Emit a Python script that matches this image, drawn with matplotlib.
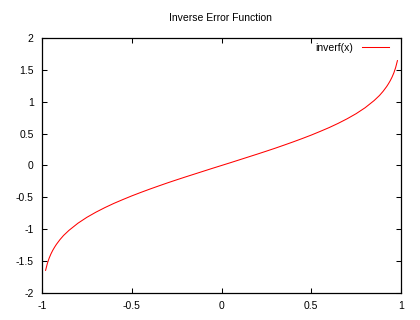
import matplotlib
matplotlib.use("Agg")
import matplotlib.pyplot as plt

# values
x = [-0.98, -0.97, -0.96, -0.95, -0.94, -0.93, -0.92, -0.90, -0.88, -0.85,
     -0.80, -0.75, -0.70, -0.65, -0.60, -0.55, -0.50, -0.45, -0.40, -0.35,
     -0.30, -0.25, -0.20, -0.15, -0.10, -0.05, 0.00,
     0.05, 0.10, 0.15, 0.20, 0.25, 0.30, 0.35, 0.40, 0.45, 0.50,
     0.55, 0.60, 0.65, 0.70, 0.75, 0.80, 0.85, 0.88, 0.90, 0.92,
     0.93, 0.94, 0.95, 0.96, 0.97, 0.98]
y = [-1.645, -1.535, -1.452, -1.386, -1.330, -1.282, -1.238, -1.163, -1.098, -1.018,
     -0.906, -0.813, -0.733, -0.661, -0.595, -0.535, -0.477, -0.423, -0.371, -0.321,
     -0.272, -0.225, -0.179, -0.134, -0.089, -0.044, 0.000,
     0.044, 0.089, 0.134, 0.179, 0.225, 0.272, 0.321, 0.371, 0.423, 0.477,
     0.535, 0.595, 0.661, 0.733, 0.813, 0.906, 1.018, 1.098, 1.163, 1.238,
     1.282, 1.330, 1.386, 1.452, 1.535, 1.645]
xticks = [-1, -0.5, 0, 0.5, 1]
yticks = [-2, -1.5, -1, -0.5, 0, 0.5, 1, 1.5, 2]

plt.rcParams['font.family'] = ['Liberation Sans', 'DejaVu Sans']
plt.rcParams['font.size'] = 7.5

fig = plt.figure(figsize=(4.2, 3.2), dpi=100)
ax = fig.add_axes([0.1, 0.0844, 0.8548, 0.7969])

ax.plot(x, y, color='#ff0000', lw=0.75, label='inverf(x)')

ax.set_xlim(-1, 1)
ax.set_ylim(-2, 2)
ax.set_xticks(xticks)
ax.set_yticks(yticks)
ax.set_xticklabels([f'{v:g}' for v in xticks])
ax.set_yticklabels([f'{v:g}' for v in yticks])
ax.tick_params(direction='in', length=3.5, width=0.75, top=True, right=True,
               labelsize=7.5, pad=6)
for s in ax.spines.values():
    s.set_linewidth(0.9)

fig.text(0.524, 0.944, 'Inverse Error Function', ha='center', va='center', fontsize=7.5)

ax.legend(loc='upper right', frameon=False, markerfirst=False, fontsize=7.5,
          handlelength=2.6, handletextpad=0.9, borderaxespad=0.2,
          bbox_to_anchor=(0.985, 1.005))

fig.savefig('out.png', dpi=100)
